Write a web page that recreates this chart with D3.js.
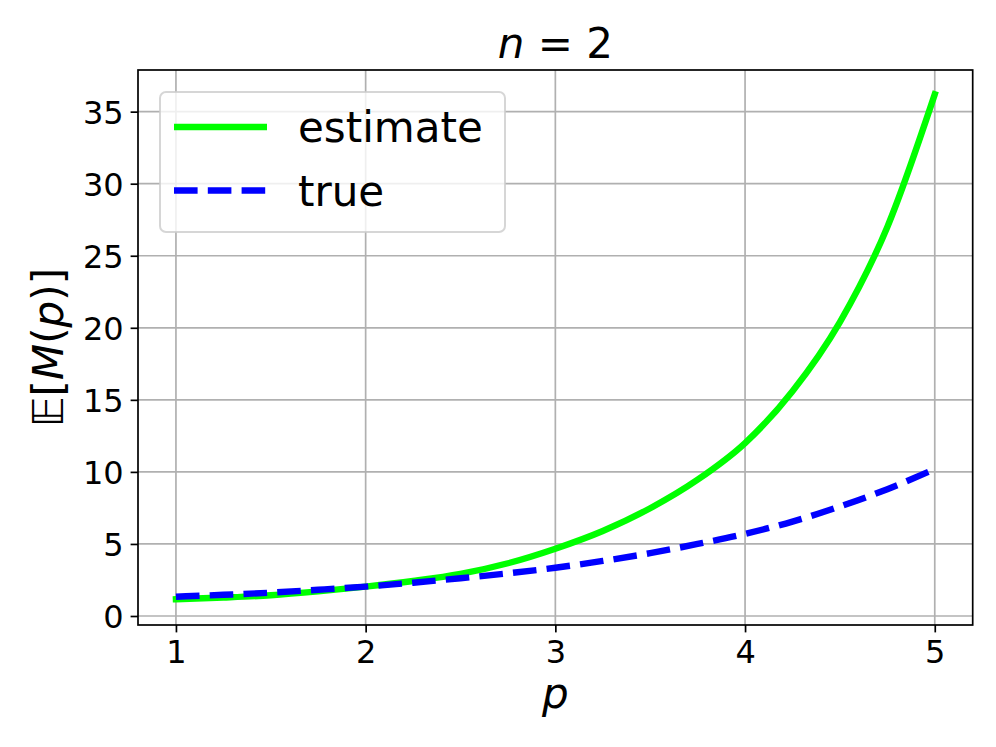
<!DOCTYPE html>
<html>
<head>
<meta charset="utf-8">
<script src="https://cdn.jsdelivr.net/npm/d3@7"></script>
<style>
  body { margin: 0; background: #fff; }
  svg { display: block; font-family: "DejaVu Sans", sans-serif; }
</style>
</head>
<body>
<svg width="996" height="747"></svg>
<script>
// values
var pValues = [1.0, 1.25, 1.5, 1.75, 2.0, 2.25, 2.5, 2.75, 3.0, 3.25, 3.5, 3.75, 4.0, 4.25, 4.5, 4.75, 5.0];
var estimateValues = [1.16, 1.28, 1.44, 1.71, 2.04, 2.43, 2.92, 3.66, 4.67, 5.9, 7.48, 9.46, 12.0, 15.6, 20.4, 27.0, 36.2];
var trueValues = [1.34, 1.47, 1.62, 1.82, 2.04, 2.31, 2.62, 2.96, 3.35, 3.82, 4.36, 5.0, 5.7, 6.55, 7.6, 8.8, 10.2];
var xTicks = [1, 2, 3, 4, 5];
var yTicks = [0, 5, 10, 15, 20, 25, 30, 35];
var seriesNames = ["estimate", "true"];
var seriesColors = ["#00ff00", "#0000ff"];

var svg = d3.select("svg");
var plotLeft = 138, plotRight = 972.7, plotTop = 70, plotBottom = 625;

var x = d3.scaleLinear().domain([0.8, 5.2]).range([plotLeft, plotRight]);
var y = d3.scaleLinear().domain([-0.625, 37.89]).range([plotBottom, plotTop]);

// grid
svg.append("g")
    .selectAll("line")
    .data(xTicks)
    .enter().append("line")
    .attr("x1", function(d) { return x(d); })
    .attr("x2", function(d) { return x(d); })
    .attr("y1", plotTop)
    .attr("y2", plotBottom)
    .attr("stroke", "#b0b0b0")
    .attr("stroke-width", 1.7);

svg.append("g")
    .selectAll("line")
    .data(yTicks)
    .enter().append("line")
    .attr("x1", plotLeft)
    .attr("x2", plotRight)
    .attr("y1", function(d) { return y(d); })
    .attr("y2", function(d) { return y(d); })
    .attr("stroke", "#b0b0b0")
    .attr("stroke-width", 1.7);

// curves
var line = d3.line()
    .x(function(d) { return x(d[0]); })
    .y(function(d) { return y(d[1]); })
    .curve(d3.curveMonotoneX);

svg.append("path")
    .datum(d3.zip(pValues, estimateValues))
    .attr("d", line)
    .attr("fill", "none")
    .attr("stroke", seriesColors[0])
    .attr("stroke-width", 6.4)
    .attr("stroke-linecap", "square");

svg.append("path")
    .datum(d3.zip(pValues, trueValues))
    .attr("d", line)
    .attr("fill", "none")
    .attr("stroke", seriesColors[1])
    .attr("stroke-width", 6.4)
    .attr("stroke-dasharray", "23.6,10.2");

// axes
var xAxis = svg.append("g")
    .attr("transform", "translate(0," + plotBottom + ")")
    .call(d3.axisBottom(x).tickValues(xTicks).tickFormat(d3.format("d")).tickSize(7.4).tickPadding(7));
var yAxis = svg.append("g")
    .attr("transform", "translate(" + plotLeft + ",0)")
    .call(d3.axisLeft(y).tickValues(yTicks).tickFormat(d3.format("d")).tickSize(7.4).tickPadding(7));

[xAxis, yAxis].forEach(function(a) {
  a.select(".domain").remove();
  a.selectAll(".tick line").attr("stroke", "#000").attr("stroke-width", 1.7);
  a.selectAll(".tick text")
    .attr("fill", "#000")
    .style("font-size", "32px")
    .style("font-family", "DejaVu Sans");
});
xAxis.selectAll(".tick text").attr("dy", "0.73em");
yAxis.selectAll(".tick text").attr("dy", "0.36em");

// frame
svg.append("rect")
    .attr("x", plotLeft)
    .attr("y", plotTop)
    .attr("width", plotRight - plotLeft)
    .attr("height", plotBottom - plotTop)
    .attr("fill", "none")
    .attr("stroke", "#000")
    .attr("stroke-width", 1.7);

// title
var title = svg.append("text")
    .attr("x", (plotLeft + plotRight) / 2)
    .attr("y", 58)
    .attr("text-anchor", "middle")
    .style("font-size", "42px");
title.append("tspan").style("font-style", "italic").text("n");
title.append("tspan").text(" = 2");

// x label
svg.append("text")
    .attr("x", (plotLeft + plotRight) / 2)
    .attr("y", 708)
    .attr("text-anchor", "middle")
    .style("font-size", "42px")
    .style("font-style", "italic")
    .text("p");

// y label
var ylab = svg.append("text")
    .attr("transform", "translate(63," + ((plotTop + plotBottom) / 2) + ") rotate(-90)")
    .attr("text-anchor", "middle")
    .style("font-size", "42px");
ylab.append("tspan").text("\u{1D53C}[");
ylab.append("tspan").style("font-style", "italic").text("M");
ylab.append("tspan").text("(");
ylab.append("tspan").style("font-style", "italic").text("p");
ylab.append("tspan").text(")]");

// legend
var legend = svg.append("g");
legend.append("rect")
    .attr("x", 160)
    .attr("y", 92)
    .attr("width", 345)
    .attr("height", 140)
    .attr("rx", 6)
    .attr("fill", "#fff")
    .attr("fill-opacity", 0.8)
    .attr("stroke", "#cccccc")
    .attr("stroke-opacity", 0.8)
    .attr("stroke-width", 2);

var items = legend.selectAll(".item")
    .data(seriesNames)
    .enter().append("g")
    .attr("class", "item")
    .attr("transform", function(d, i) { return "translate(0," + (127 + i * 63.5) + ")"; });

items.append("line")
    .attr("x1", 174)
    .attr("x2", 267)
    .attr("stroke", function(d, i) { return seriesColors[i]; })
    .attr("stroke-width", 6.4)
    .attr("stroke-dasharray", function(d, i) { return i == 1 ? "23.6,10.2" : null; });

items.append("text")
    .attr("x", 298)
    .attr("y", 15)
    .style("font-size", "42px")
    .text(function(d) { return d; });
</script>
</body>
</html>
